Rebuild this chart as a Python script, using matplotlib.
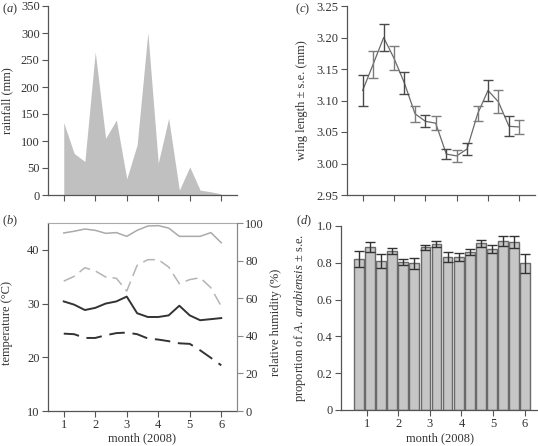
import numpy as np
import matplotlib
matplotlib.use('Agg')
import matplotlib.pyplot as plt

plt.rcParams['font.family'] = 'Liberation Serif'
plt.rcParams['mathtext.fontset'] = 'custom'
plt.rcParams['mathtext.rm'] = 'Liberation Serif'
plt.rcParams['mathtext.it'] = 'Liberation Serif:italic'
plt.rcParams['font.size'] = 9

# sampling dates (month of 2008), roughly every ten days
months = [1, 1.33, 1.67, 2, 2.33, 2.67, 3, 3.33, 3.67, 4, 4.33, 4.67, 5, 5.33, 5.67, 6]

# (a) rainfall
rainfall = [134, 77, 62, 265, 105, 139, 30, 93, 301, 59, 142, 9, 52, 9, 6, 2]

# (b) temperature and humidity
temp_max = [30.4, 29.8, 28.8, 29.2, 30.0, 30.4, 31.3, 28.2, 27.5, 27.5, 27.8, 29.6, 27.8, 26.9, 27.1, 27.3]
temp_min = [24.4, 24.3, 23.6, 23.6, 24.1, 24.5, 24.6, 24.3, 23.5, 23.3, 23.0, 22.6, 22.5, 21.3, 19.9, 18.5]
rh_max = [94.7, 95.6, 96.8, 96.1, 94.5, 94.9, 92.9, 96.1, 98.4, 98.6, 97.3, 92.9, 92.9, 92.9, 94.9, 89.5]
rh_min = [69.1, 71.6, 76.2, 74.5, 71.3, 70.6, 63.8, 77.5, 80.5, 80.5, 76.6, 67.7, 69.9, 70.9, 65.6, 55.7]

# (c) wing length
wing = [3.116, 3.157, 3.200, 3.167, 3.128, 3.079, 3.067, 3.064, 3.015, 3.012, 3.023, 3.079, 3.116, 3.098, 3.059, 3.058]
wing_se = [0.025, 0.022, 0.021, 0.019, 0.017, 0.013, 0.0095, 0.011, 0.008, 0.009, 0.0095, 0.012, 0.016, 0.018, 0.016, 0.011]

# (d) proportion of A. arabiensis
bar_x = [0.76, 1.11, 1.46, 1.81, 2.16, 2.51, 2.86, 3.21, 3.56, 3.91, 4.26, 4.61, 4.96, 5.31, 5.66, 6.01]
prop = [0.821, 0.884, 0.811, 0.866, 0.804, 0.797, 0.884, 0.902, 0.833, 0.833, 0.857, 0.906, 0.873, 0.917, 0.913, 0.797]
prop_se = [0.045, 0.027, 0.039, 0.017, 0.014, 0.028, 0.015, 0.015, 0.027, 0.022, 0.016, 0.020, 0.022, 0.028, 0.032, 0.051]

month_ticks = [1, 2, 3, 4, 5, 6]
W, H = 538, 446
txt = '#333333'
spine_c = '#555555'
fs = 9


def px_axes(l, t, r, b):
    return fig.add_axes([l / W, 1 - b / H, (r - l) / W, (b - t) / H])


def style(ax, box=False):
    for s in ['left', 'bottom']:
        ax.spines[s].set_color(spine_c)
        ax.spines[s].set_linewidth(0.9)
    if not box:
        ax.spines['top'].set_visible(False)
        ax.spines['right'].set_visible(False)
    ax.tick_params(direction='out', length=4, width=0.8, color=spine_c,
                   labelcolor=txt, labelsize=fs, pad=2)


fig = plt.figure(figsize=(W / 100, H / 100), dpi=100)

# (a)
ax = px_axes(48, 6, 237, 195)
style(ax)
ax.fill_between(months, rainfall, 0, color='#c0c0c0', linewidth=0)
ax.set_xlim(0.5, 6.5)
ax.set_ylim(0, 350)
ax.set_yticks(range(0, 351, 50))
ax.set_xticks(month_ticks)
ax.set_xticklabels([])
ax.set_ylabel('rainfall (mm)', fontsize=fs, color=txt)
ax.yaxis.set_label_coords(-0.185, 0.5)

# (b)
ax = px_axes(48, 223, 237, 411)
style(ax, box=True)
ax.spines['top'].set_color('#aaaaaa')
ax.spines['right'].set_color('#888888')
ax.plot(months, temp_max, color='#333333', lw=1.4)
ax.plot(months, temp_min, color='#333333', lw=1.4, dashes=(8, 4))
ax.set_xlim(0.5, 6.5)
ax.set_ylim(10, 45)
ax.set_yticks([10, 20, 30, 40])
ax.set_xticks(month_ticks)
ax.set_xlabel('month (2008)', fontsize=fs, color=txt)
ax.xaxis.set_label_coords(0.5, -0.115)
ax.set_ylabel('temperature (°C)', fontsize=fs, color=txt)
ax.yaxis.set_label_coords(-0.185, 0.47)
ax2 = ax.twinx()
ax2.plot(months, rh_max, color='#aaaaaa', lw=1.1)
ax2.plot(months, rh_min, color='#b4b4b4', lw=1.1, dashes=(8, 4))
ax2.set_ylim(0, 100)
ax2.set_yticks(range(0, 101, 20))
for s in ['left', 'bottom', 'top']:
    ax2.spines[s].set_visible(False)
ax2.spines['right'].set_color('#888888')
ax2.tick_params(direction='out', length=4, width=0.8, color='#888888',
                labelcolor=txt, labelsize=fs, pad=2)
ax2.set_ylabel('relative humidity (%)', fontsize=fs, color=txt, rotation=90)
ax2.yaxis.set_label_coords(1.175, 0.47)

# (c)
ax = px_axes(347, 6, 535, 195)
style(ax)
ax.plot(months, wing, color='#6a6a6a', lw=0.9)
for i, (m, w, s) in enumerate(zip(months, wing, wing_se)):
    c = '#4a4a4a' if i % 2 == 0 else '#7c7c7c'
    ax.errorbar(m, w, yerr=s, fmt='none', ecolor=c, elinewidth=1.0,
                capsize=3.5, capthick=1.0)
ax.set_xlim(0.5, 6.5)
ax.set_ylim(2.95, 3.25)
ax.set_yticks(np.arange(2.95, 3.26, 0.05))
ax.set_yticklabels(['2.95', '3.00', '3.05', '3.10', '3.15', '3.20', '3.25'])
ax.set_xticks(month_ticks)
ax.set_xticklabels([])
ax.set_ylabel('wing length ± s.e. (mm)', fontsize=fs, color=txt)
ax.yaxis.set_label_coords(-0.205, 0.5)

# (d)
ax = px_axes(341, 226, 538, 410)
style(ax)
ax.bar(bar_x, prop, width=0.31, color='#c6c6c6', edgecolor='#6a6a6a',
       linewidth=1.0, yerr=prop_se, capsize=3.5,
       error_kw=dict(ecolor='#333333', elinewidth=1.0, capthick=1.0))
ax.set_xlim(0.19, 6.42)
ax.set_ylim(0, 1.0)
ax.set_yticks([0, 0.2, 0.4, 0.6, 0.8, 1.0])
ax.set_yticklabels(['0', '0.2', '0.4', '0.6', '0.8', '1.0'])
ax.set_xticks(month_ticks)
ax.set_xlabel('month (2008)', fontsize=fs, color=txt)
ax.xaxis.set_label_coords(0.5, -0.12)
ax.set_ylabel(r'proportion of $\mathit{A.\ arabiensis}$ ± s.e.', fontsize=fs, color=txt)
ax.yaxis.set_label_coords(-0.165, 0.5)

# panel letters
for lab, x, y in [('a', 2, 9), ('b', 2, 221), ('c', 295, 9), ('d', 296, 221)]:
    fig.text(x / W, 1 - y / H, '($\\mathit{' + lab + '}$)', fontsize=fs,
             color=txt, va='center', ha='left')

fig.savefig('out.png', dpi=100)
